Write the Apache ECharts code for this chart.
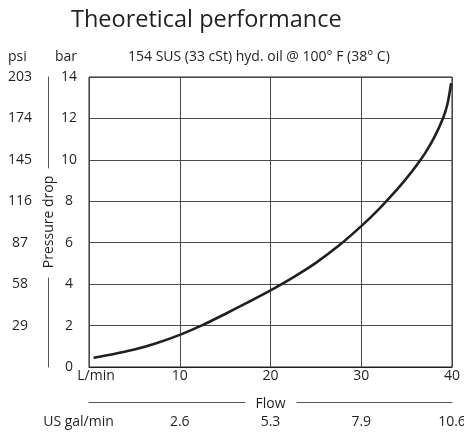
<!DOCTYPE html>
<html><head><meta charset="utf-8">
<script src="https://cdn.jsdelivr.net/npm/echarts@6/dist/echarts.min.js"></script>
<style>html,body{margin:0;padding:0;background:#fff}#c{width:464px;height:433px}</style>
</head><body><div id="c"></div>
<script>
const flowLmin = [0.5, 2.5, 5, 7.5, 10, 12.5, 15, 17.5, 20, 22.5, 25, 27.5, 30, 32, 34, 35, 36, 37, 38, 39, 39.5, 39.9];
const pressureBar = [0.45, 0.6, 0.84, 1.16, 1.55, 2.02, 2.56, 3.12, 3.7, 4.33, 5.03, 5.85, 6.8, 7.65, 8.6, 9.12, 9.68, 10.3, 11.05, 12.0, 12.7, 13.7];
const psiLabels = ['', '29', '58', '87', '116', '145', '174', '203'];
const galLabels = ['US gal/min', '2.6', '5.3', '7.9', '10.6'];
const lminLabels = ['L/min', '10', '20', '30', '40'];

const FONT = 'Open Sans';
const TXT = '#231f20';
const chart = echarts.init(document.getElementById('c'), null, {renderer: 'canvas'});
chart.setOption({
  animation: false,
  textStyle: {fontFamily: FONT, color: TXT},
  title: [
    {text: 'Theoretical performance', left: 66, top: 3, textStyle: {fontFamily: FONT, fontSize: 23.5, fontWeight: 'normal', color: TXT}},
    {text: '154 SUS (33 cSt) hyd. oil @ 100° F (38° C)', left: 123, top: 45, textStyle: {fontFamily: FONT, fontSize: 14, fontWeight: 'normal', color: TXT}},
    {text: 'psi', left: 3, top: 45, textStyle: {fontFamily: FONT, fontSize: 14, fontWeight: 'normal', color: TXT}},
    {text: 'bar', left: 50, top: 45, textStyle: {fontFamily: FONT, fontSize: 14, fontWeight: 'normal', color: TXT}}
  ],
  grid: {left: 89, right: 12, top: 77, bottom: 66, outerBoundsMode: 'none', containLabel: false,
         show: true, borderColor: '#231f20', borderWidth: 1},
  xAxis: [
    {type: 'value', min: 0, max: 40, interval: 10, position: 'bottom',
     axisLine: {show: true, onZero: false, lineStyle: {color: '#231f20'}}, axisTick: {show: false},
     splitLine: {show: true, lineStyle: {color: '#4a4a4a', width: 1}},
     axisLabel: {margin: 2, fontSize: 14, color: TXT, fontFamily: FONT,
       formatter: (v) => { const i = Math.round(v / 10); return i === 0 ? '{u|' + lminLabels[0] + '}' : lminLabels[i]; },
       rich: {u: {fontSize: 14, color: TXT, fontFamily: FONT, padding: [0, 0, 0, 14]}}}},
    {type: 'value', min: 0, max: 40, interval: 10, position: 'bottom', offset: 35,
     name: 'Flow', nameLocation: 'middle', nameGap: -5, nameMoveOverlap: false,
     nameTextStyle: {fontSize: 14, color: TXT, fontFamily: FONT},
     axisLine: {show: true, onZero: false, lineStyle: {color: '#555', type: [156, 52, 200]}}, axisTick: {show: false}, splitLine: {show: false},
     axisLabel: {margin: 13, fontSize: 14, color: TXT, fontFamily: FONT,
       formatter: (v) => { const i = Math.round(v / 10); return i === 0 ? '{u|' + galLabels[0] + '}' : galLabels[i]; },
       rich: {u: {fontSize: 14, color: TXT, fontFamily: FONT, padding: [0, 21, 0, 0]}}}}
  ],
  yAxis: [
    {type: 'value', min: 0, max: 14, interval: 2, position: 'left', offset: 20,
     axisLine: {show: false, onZero: false}, axisTick: {show: false},
     splitLine: {show: true, lineStyle: {color: '#4a4a4a', width: 1}},
     axisLabel: {margin: 0, align: 'center', fontSize: 14, color: TXT, fontFamily: FONT}},
    {type: 'value', min: 0, max: 14, interval: 2, position: 'left', offset: 69,
     axisLine: {show: false, onZero: false}, axisTick: {show: false}, splitLine: {show: false},
     axisLabel: {margin: 0, align: 'center', fontSize: 14, color: TXT, fontFamily: FONT,
       formatter: (v) => psiLabels[Math.round(v / 2)]}},
    {type: 'value', min: 0, max: 14, interval: 2, position: 'left', offset: 41,
     name: 'Pressure drop', nameLocation: 'middle', nameGap: -8, nameMoveOverlap: false,
     nameTextStyle: {fontSize: 14, color: TXT, fontFamily: FONT},
     axisLine: {show: true, onZero: false, lineStyle: {color: '#555', type: [89, 110, 200]}}, axisTick: {show: false}, splitLine: {show: false},
     axisLabel: {show: false}}
  ],
  series: [{
    type: 'line', xAxisIndex: 0, yAxisIndex: 0, smooth: 0.3, symbol: 'none',
    lineStyle: {color: '#231f20', width: 2.6},
    data: flowLmin.map((f, i) => [f, pressureBar[i]])
  }]
});
</script></body></html>
